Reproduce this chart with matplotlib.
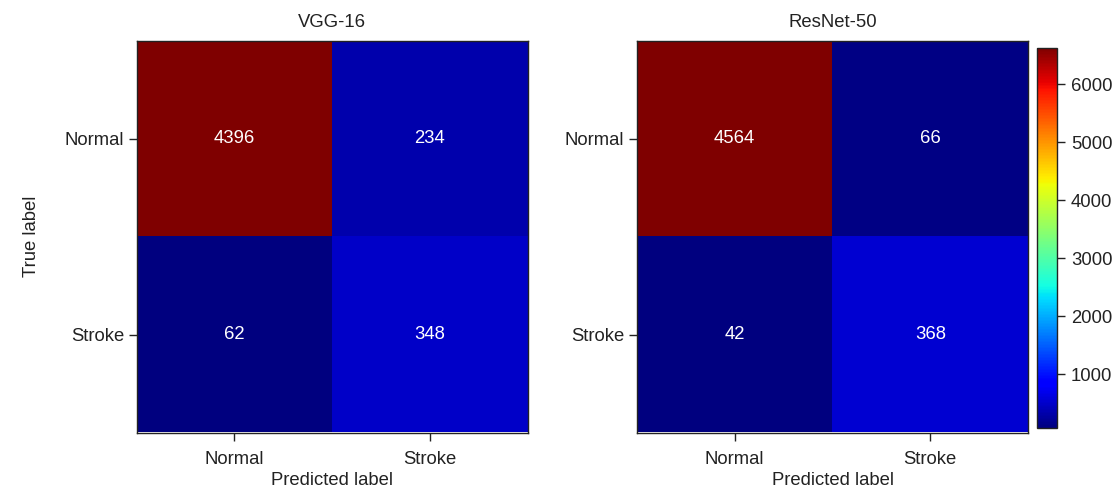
import numpy as np
import matplotlib
matplotlib.use('Agg')
import matplotlib.pyplot as plt
from matplotlib.colors import Normalize

plt.rcParams['font.family'] = ['Liberation Sans', 'DejaVu Sans']

# confusion matrices
labels = ['Normal', 'Stroke']
titles = ['VGG-16', 'ResNet-50']
vgg16 = [[4396, 234], [62, 348]]
resnet50 = [[4564, 66], [42, 368]]
cbar_range = [66, 6630]

W, H = 1117, 494
fig = plt.figure(figsize=(W / 100, H / 100), dpi=100)

def px_axes(x0, y0, x1, y1):
    # pixel box (top-left origin) -> figure axes
    return fig.add_axes([x0 / W, (H - y1) / H, (x1 - x0) / W, (y1 - y0) / H])

axes = [px_axes(136.5, 41, 527.5, 432.5), px_axes(637, 41, 1028, 432.5)]
cax = px_axes(1037, 47.7, 1057, 428.3)

fs = 13.3
tc = '#222222'
for ax, cm, title in zip(axes, [vgg16, resnet50], titles):
    cm = np.array(cm)
    ax.imshow(cm, cmap='jet', aspect='auto', interpolation='nearest')
    for i in range(2):
        for j in range(2):
            ax.text(j, i, str(cm[i, j]), ha='center', va='center',
                    color='white', fontsize=fs)
    ax.set_xticks(range(2))
    ax.set_yticks(range(2))
    ax.set_xticklabels(labels, fontsize=fs, color=tc)
    ax.set_yticklabels(labels, fontsize=fs, color=tc)
    ax.tick_params(axis='y', length=6, width=1, pad=3, color=tc)
    ax.tick_params(axis='x', length=6, width=1, pad=7, color=tc)
    ax.set_xlabel('Predicted label', fontsize=fs, color=tc, labelpad=3)
    ax.set_title(title, fontsize=fs, color=tc, pad=10)
    for s in ax.spines.values():
        s.set_linewidth(1)
        s.set_color(tc)

axes[0].set_ylabel('True label', fontsize=fs, color=tc, labelpad=18)

sm = plt.cm.ScalarMappable(cmap='jet', norm=Normalize(*cbar_range))
cb = fig.colorbar(sm, cax=cax)
cb.set_ticks([1000, 2000, 3000, 4000, 5000, 6000])
cb.ax.tick_params(labelsize=fs, length=6, width=1, pad=4, color=tc, labelcolor=tc)
cb.outline.set_linewidth(1)
cb.outline.set_edgecolor(tc)

fig.savefig('out.png', dpi=100)
